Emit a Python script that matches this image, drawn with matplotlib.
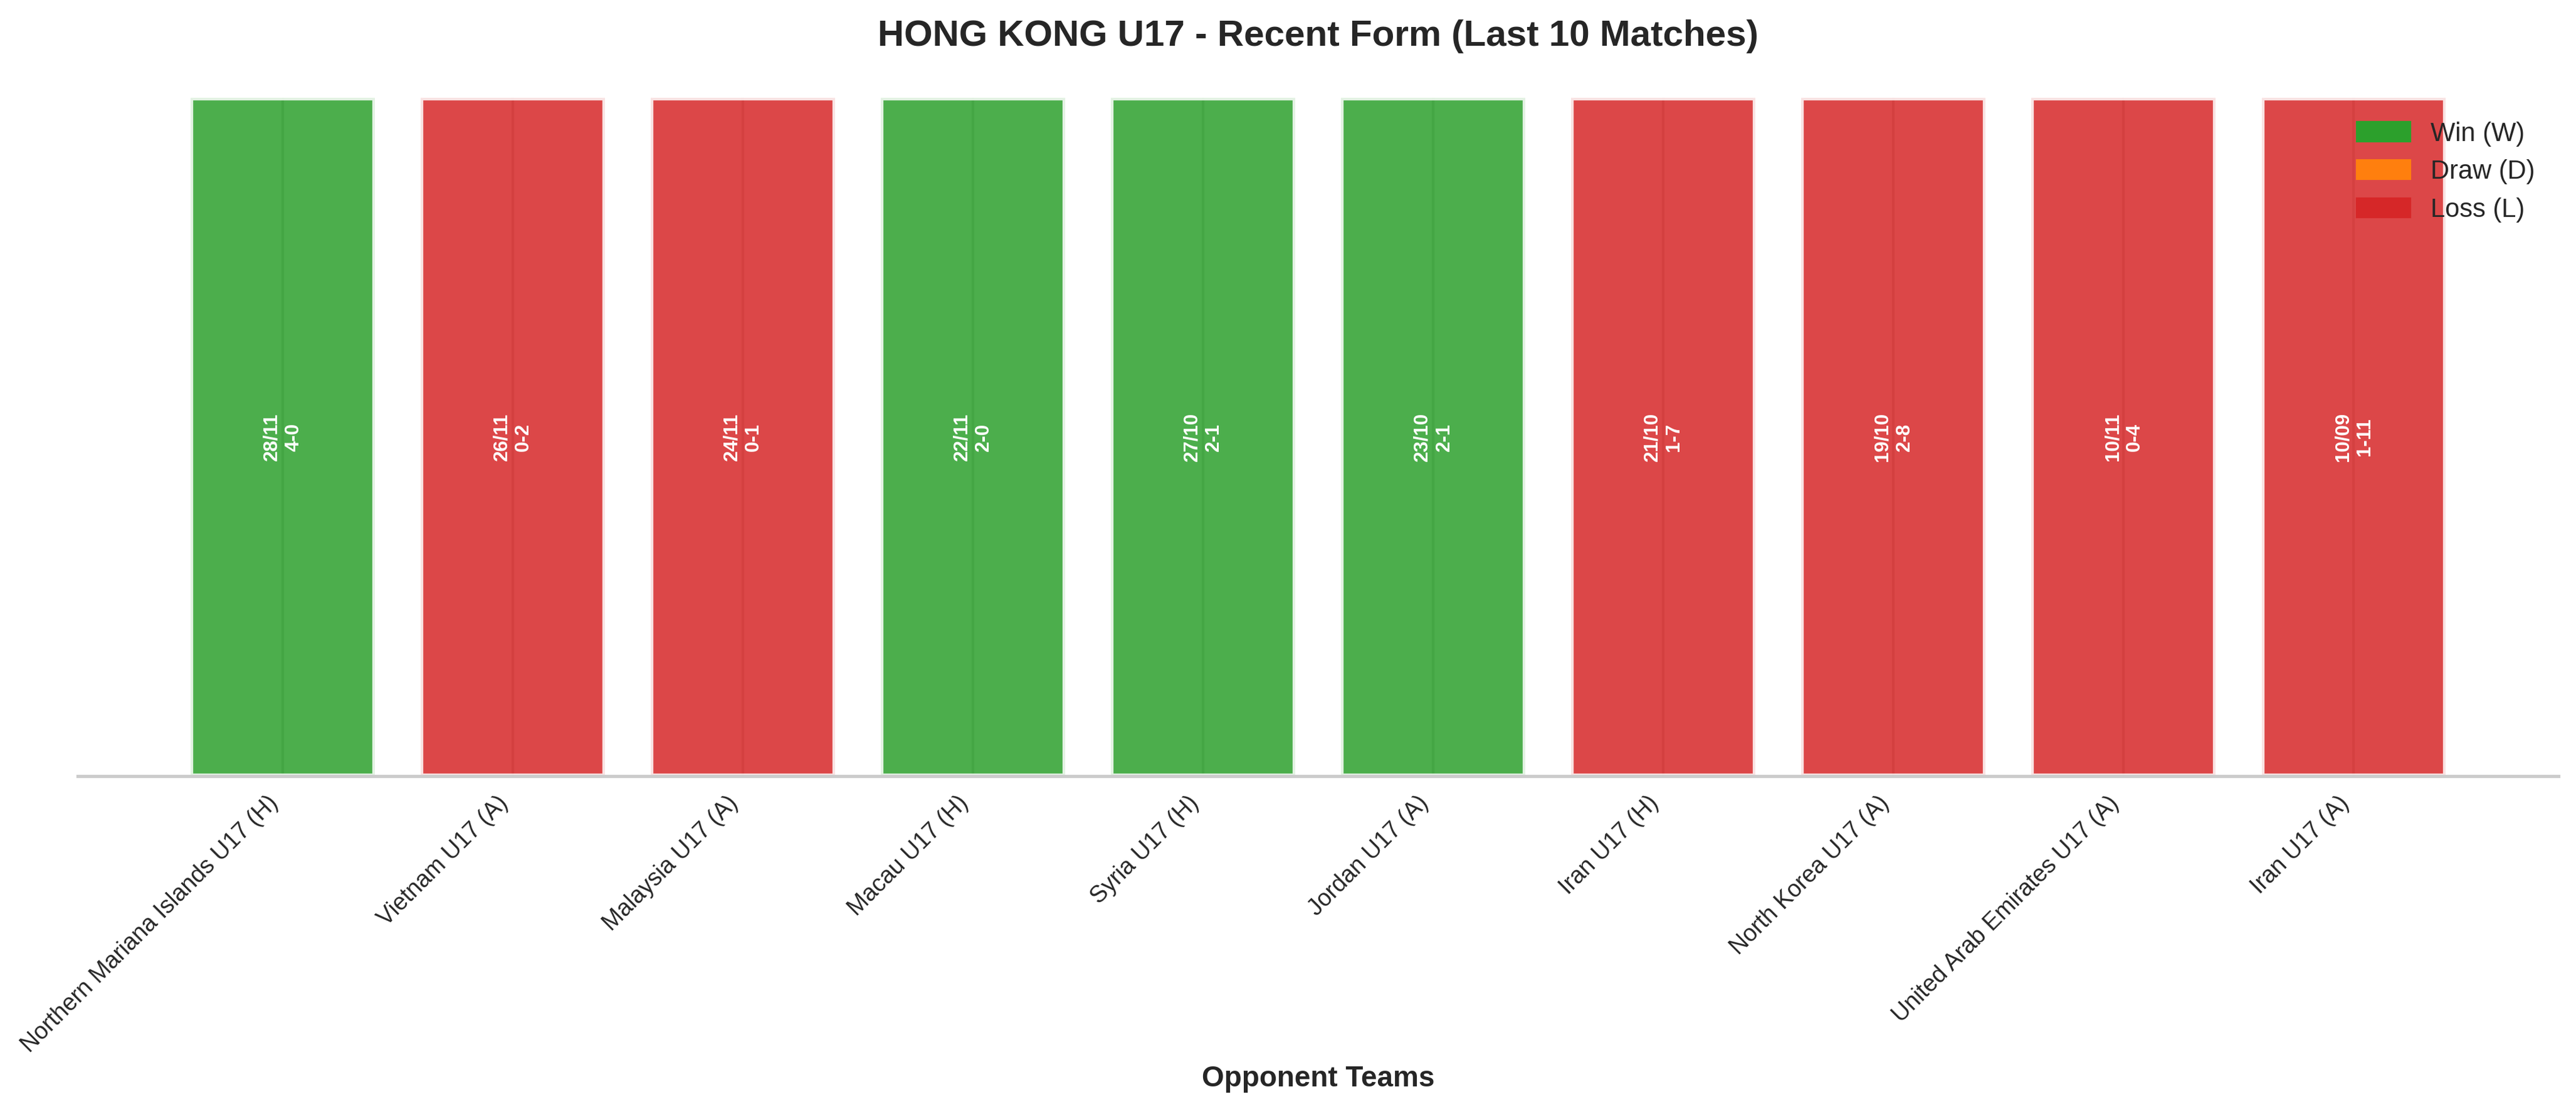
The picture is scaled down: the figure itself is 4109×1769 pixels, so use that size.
import matplotlib
matplotlib.use('Agg')
import matplotlib.pyplot as plt
from matplotlib.patches import Patch
import numpy as np

plt.rcParams['font.family'] = ['Liberation Sans', 'DejaVu Sans']
plt.rcParams['text.color'] = '.15'
plt.rcParams['xtick.color'] = '.15'
plt.rcParams['axes.labelcolor'] = '.15'

opponents = ['Northern Mariana Islands U17', 'Vietnam U17', 'Malaysia U17', 'Macau U17',
             'Syria U17', 'Jordan U17', 'Iran U17', 'North Korea U17',
             'United Arab Emirates U17', 'Iran U17']
venues = ['H', 'A', 'A', 'H', 'H', 'A', 'H', 'A', 'A', 'A']
dates = ['28/11', '26/11', '24/11', '22/11', '27/10', '23/10', '21/10', '19/10', '10/11', '10/09']
scores = ['4-0', '0-2', '0-1', '2-0', '2-1', '2-1', '1-7', '2-8', '0-4', '1-11']
results = ['W', 'L', 'L', 'W', 'W', 'W', 'L', 'L', 'L', 'L']

colors = {'W': '#2ca02c', 'D': '#ff7f0e', 'L': '#d62728'}

def plot_form():
    fig = plt.figure(figsize=(4109 / 300., 1769 / 300.), dpi=300)
    ax = fig.add_axes([0.0302, 0.3002, 0.963, 0.6116])

    x = np.arange(len(opponents))
    heights = np.ones(len(opponents))
    bar_colors = [colors[r] for r in results]
    ax.set_axisbelow(True)
    ax.grid(axis='x', color='.8', linewidth=1)
    ax.bar(x, heights, width=0.8, color=bar_colors, alpha=0.85, edgecolor='white', linewidth=2)

    for i in range(len(x)):
        ax.text(x[i], 0.5, dates[i] + '\n' + scores[i], rotation=90, ha='center', va='center',
                color='white', fontsize=7.5, fontweight='bold')

    labels = ['%s (%s)' % (o, v) for o, v in zip(opponents, venues)]
    ax.set_xticks(x)
    ax.set_xticklabels(labels, rotation=45, ha='right', fontsize=9)
    ax.tick_params(axis='x', length=0, pad=6)
    ax.set_yticks([])
    ax.set_ylim(0, 1)
    ax.set_xlim(-0.89, len(x) - 1 + 0.89)

    for s in ['left', 'top', 'right']:
        ax.spines[s].set_visible(False)
    ax.spines['bottom'].set_color('.8')
    ax.spines['bottom'].set_linewidth(1.25)

    ax.set_xlabel('Opponent Teams', fontsize=11, fontweight='bold', labelpad=3)
    ax.set_title('HONG KONG U17 - Recent Form (Last 10 Matches)', fontsize=14, fontweight='bold', pad=20)

    handles = [Patch(color=colors['W'], label='Win (W)'),
               Patch(color=colors['D'], label='Draw (D)'),
               Patch(color=colors['L'], label='Loss (L)')]
    ax.legend(handles=handles, loc='upper right', frameon=False, fontsize=10)

    fig.savefig('out.png', dpi=300)

if __name__ == "__main__":
    plot_form()
